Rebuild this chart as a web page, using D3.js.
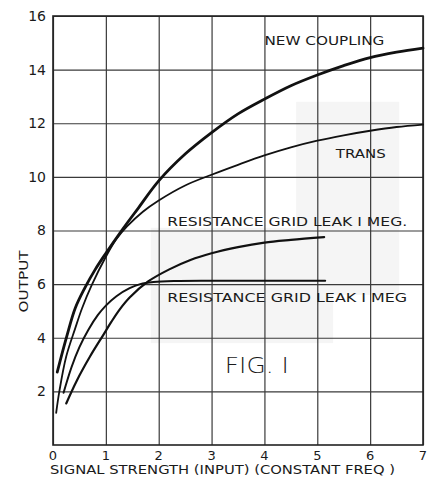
<!DOCTYPE html>
<html>
<head>
<meta charset="utf-8">
<script src="https://cdn.jsdelivr.net/npm/d3@7"></script>
<style>
  body { margin: 0; background: #fff; }
  text { font-family: "DejaVu Sans", "Liberation Sans", sans-serif; fill: #1a1a1a; }
</style>
</head>
<body>
<svg id="chart" width="435" height="479"></svg>
<script>
// Curve readings (x = signal strength, y = output)
var new_coupling = [[0.08,2.72],[0.26,4.05],[0.42,5.1],[0.6,5.85],[0.8,6.55],[1.0,7.15],[1.3,8.0],[1.6,8.8],[2,9.85],[2.5,10.85],[3,11.65],[3.5,12.35],[4,12.9],[4.5,13.4],[5,13.8],[5.5,14.15],[6,14.45],[6.5,14.65],[7,14.8]];
var trans = [[0.06,1.2],[0.12,2.0],[0.25,3.3],[0.42,4.35],[0.55,5.1],[0.73,5.95],[1.0,7.02],[1.2,7.68],[1.4,8.15],[1.7,8.7],[2,9.12],[2.5,9.68],[3,10.08],[3.5,10.45],[4,10.8],[4.5,11.1],[5,11.35],[5.5,11.55],[6,11.72],[6.5,11.86],[7,11.95]];
var res_upper = [[0.25,1.55],[0.45,2.4],[0.7,3.3],[0.95,4.1],[1.1,4.58],[1.26,5.05],[1.45,5.5],[1.8,6.1],[2.2,6.55],[2.6,6.9],[3,7.15],[3.5,7.38],[4,7.55],[4.5,7.65],[5.13,7.75]];
var res_lower = [[0.2,1.95],[0.35,2.9],[0.5,3.65],[0.67,4.3],[0.85,4.85],[1.0,5.2],[1.2,5.55],[1.45,5.85],[1.65,6.0],[1.9,6.08],[2.3,6.12],[3,6.13],[4,6.13],[5.15,6.13]];

var x_ticks = [0, 1, 2, 3, 4, 5, 6, 7];
var y_ticks = [2, 4, 6, 8, 10, 12, 14, 16];

// Labels in data units
var curve_labels = [
  {text: 'NEW COUPLING', x: 4.0, y: 14.9, len: 120},
  {text: 'TRANS', x: 5.35, y: 10.7, len: 50},
  {text: 'RESISTANCE  GRID LEAK I MEG.', x: 2.16, y: 8.15, len: 240},
  {text: 'RESISTANCE  GRID LEAK I MEG', x: 2.16, y: 5.35, len: 240}
];

// Faint grey patches from the scan
var patches = [[1.85, 8.1, 5.3, 3.8], [4.6, 12.8, 6.55, 5.6]];

var svg = d3.select('#chart');
var margin = {top: 16, right: 12, bottom: 34, left: 53};
var width = 435 - margin.left - margin.right;
var height = 479 - margin.top - margin.bottom;

var g = svg.append('g')
    .attr('transform', 'translate(' + margin.left + ',' + margin.top + ')');

var x = d3.scaleLinear().domain([0, 7]).range([0, width]);
var y = d3.scaleLinear().domain([0, 16]).range([height, 0]);

// scan patches
g.selectAll('.patch')
    .data(patches)
    .enter().append('rect')
    .attr('x', function(d) { return x(d[0]); })
    .attr('y', function(d) { return y(d[1]); })
    .attr('width', function(d) { return x(d[2]) - x(d[0]); })
    .attr('height', function(d) { return y(d[3]) - y(d[1]); })
    .style('fill', '#f5f5f5');

// gridlines
g.append('g')
    .attr('transform', 'translate(0,' + height + ')')
    .call(d3.axisBottom(x).tickValues(x_ticks).tickSize(-height).tickFormat(''))
    .call(function(s) { s.select('.domain').remove(); })
    .selectAll('line')
    .style('stroke', '#3a3a3a')
    .style('stroke-width', 1.2);

g.append('g')
    .call(d3.axisLeft(y).tickValues(y_ticks).tickSize(-width).tickFormat(''))
    .call(function(s) { s.select('.domain').remove(); })
    .selectAll('line')
    .style('stroke', '#3a3a3a')
    .style('stroke-width', 1.2);

// frame
g.append('rect')
    .attr('width', width)
    .attr('height', height)
    .style('fill', 'none')
    .style('stroke', '#222')
    .style('stroke-width', 1.6);

// tick labels
g.selectAll('.ylab')
    .data(y_ticks)
    .enter().append('text')
    .attr('x', -7)
    .attr('y', function(d) { return y(d); })
    .attr('dy', '0.35em')
    .attr('text-anchor', 'end')
    .style('font-size', '14px')
    .text(function(d) { return d; });

g.selectAll('.xlab')
    .data(x_ticks)
    .enter().append('text')
    .attr('x', function(d) { return x(d); })
    .attr('y', height + 15)
    .attr('text-anchor', 'middle')
    .style('font-size', '13px')
    .text(function(d) { return d; });

// axis titles
g.append('text')
    .attr('x', -3)
    .attr('y', height + 29)
    .attr('textLength', 345)
    .attr('lengthAdjust', 'spacingAndGlyphs')
    .style('font-size', '13px')
    .text('SIGNAL STRENGTH (INPUT) (CONSTANT FREQ )');

g.append('text')
    .attr('transform', 'translate(-25,' + y(6.1) + ') rotate(-90)')
    .attr('text-anchor', 'middle')
    .attr('textLength', 62)
    .attr('lengthAdjust', 'spacingAndGlyphs')
    .style('font-size', '13px')
    .text('OUTPUT');

// curves
var line = d3.line()
    .x(function(d) { return x(d[0]); })
    .y(function(d) { return y(d[1]); })
    .curve(d3.curveCatmullRom.alpha(0.5));

function add_curve(data, w) {
  g.append('path')
      .datum(data)
      .attr('d', line)
      .style('fill', 'none')
      .style('stroke', '#111')
      .style('stroke-width', w)
      .style('stroke-linecap', 'round');
}

add_curve(res_lower, 2);
add_curve(res_upper, 2.2);
add_curve(trans, 1.8);
add_curve(new_coupling, 2.8);

// curve labels
g.selectAll('.clab')
    .data(curve_labels)
    .enter().append('text')
    .attr('x', function(d) { return x(d.x); })
    .attr('y', function(d) { return y(d.y); })
    .attr('textLength', function(d) { return d.len; })
    .attr('lengthAdjust', 'spacingAndGlyphs')
    .style('font-size', '13px')
    .text(function(d) { return d.text; });

g.append('text')
    .attr('x', x(3.25))
    .attr('y', y(2.7))
    .attr('textLength', 64)
    .attr('lengthAdjust', 'spacingAndGlyphs')
    .style('font-size', '21px')
    .style('font-weight', 300)
    .text('FIG. I');
</script>
</body>
</html>
